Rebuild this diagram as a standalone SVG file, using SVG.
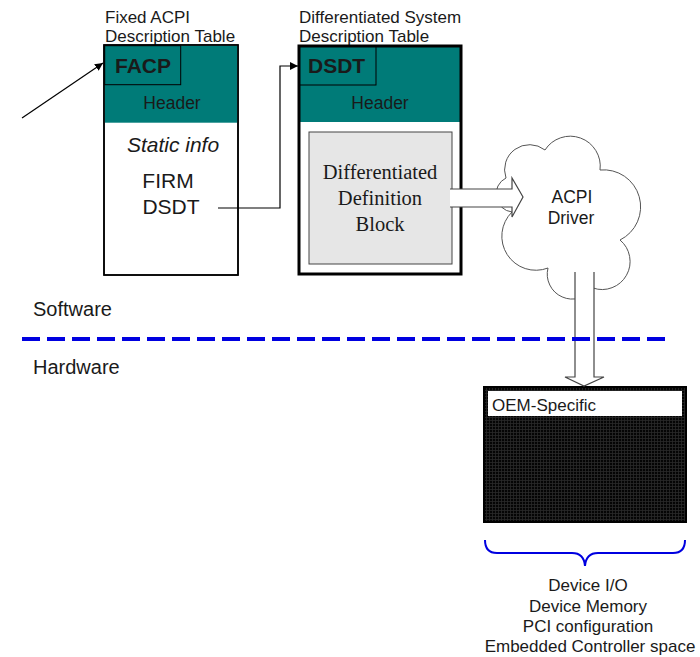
<svg xmlns="http://www.w3.org/2000/svg" width="700" height="657" viewBox="0 0 700 657">
<style>
.t{font-family:"Liberation Sans",Arial,sans-serif;fill:#1a1a1a}
.lab{font-size:17px}
.hd{font-size:17.5px;text-anchor:middle}
.big{font-size:21px;text-anchor:middle}
.lst{font-size:17px;text-anchor:middle}
.ser{font-family:"Liberation Serif","Times New Roman",serif;font-size:20.5px;text-anchor:middle;fill:#1a1a1a}
.teal{fill:#007b78}
.ln{fill:none;stroke:#000;stroke-width:1.2}
.blk{fill:#fff;stroke:#444;stroke-width:1.2}
</style>
<defs>
<marker id="ah" viewBox="0 0 10 10" refX="10" refY="5" markerWidth="8" markerHeight="8" markerUnits="userSpaceOnUse" orient="auto"><path d="M0,0 L10,5 L0,10 z" fill="#000"/></marker>
<pattern id="grid" width="3" height="3" patternUnits="userSpaceOnUse"><rect width="3" height="3" fill="#050505"/><path d="M0,0.5 H3 M0.5,0 V3" stroke="#2a2a2a" stroke-width="0.8"/></pattern>
</defs>
<rect width="700" height="657" fill="#fff"/>

<g id="facp">
<text class="t lab" x="105" y="23">Fixed ACPI</text>
<text class="t lab" x="105" y="42">Description Table</text>
<rect x="104" y="45" width="134" height="230" fill="#fff" stroke="#000" stroke-width="1.5"/>
<rect class="teal" x="104.7" y="45.7" width="132.6" height="77"/>
<rect x="104.7" y="45.7" width="76" height="39" class="teal" stroke="#000" stroke-width="1"/>
<rect x="104" y="45" width="134" height="230" fill="none" stroke="#000" stroke-width="1.5"/>
<text class="t" x="115" y="73" font-size="21" font-weight="bold">FACP</text>
<text class="t hd" x="172" y="109">Header</text>
<text class="t big" x="173" y="152" font-style="italic">Static info</text>
<text class="t big" x="168" y="188">FIRM</text>
<text class="t big" x="171" y="214">DSDT</text>
</g>

<g id="dsdt">
<text class="t lab" x="299" y="23">Differentiated System</text>
<text class="t lab" x="299" y="42">Description Table</text>
<rect x="299" y="46" width="162" height="228" fill="#fff"/>
<rect class="teal" x="299" y="46" width="162" height="76"/>
<rect x="299" y="46" width="77" height="39" class="teal" stroke="#000" stroke-width="1"/>
<rect x="299" y="46" width="162" height="228" fill="none" stroke="#000" stroke-width="3"/>
<text class="t" x="308" y="73" font-size="21" font-weight="bold">DSDT</text>
<text class="t hd" x="380" y="109">Header</text>
<rect x="309" y="132" width="143" height="132" fill="#e6e6e6" stroke="#444" stroke-width="1"/>
<text class="ser" x="380" y="179">Differentiated</text>
<text class="ser" x="380" y="205">Definition</text>
<text class="ser" x="380" y="231">Block</text>
</g>

<g id="driver">
<path d="M506,178 A25,25 0 0 1 545,150 A30,30 0 0 1 600,170 A37,37 0 0 1 620,240 A28,28 0 0 1 593,288 A25,25 0 0 1 548,268 A34,34 0 0 1 512,212 A18,18 0 0 1 506,178 Z" fill="#fff" stroke="#555" stroke-width="1"/>
<text class="t hd" x="572" y="203">ACPI</text>
<text class="t hd" x="571" y="224">Driver</text>
</g>

<g id="oem">
<rect x="484" y="387" width="202" height="135" fill="url(#grid)" stroke="#000" stroke-width="2"/>
<rect x="488" y="391" width="194" height="25" fill="#fff"/>
<text class="t" x="492" y="411" font-size="17">OEM-Specific</text>
<path d="M485,540 Q485,553 497,553 H572 Q584,553 585,566 Q586,553 598,553 H673 Q685,553 685,540" fill="none" stroke="#0000e0" stroke-width="2"/>
<text class="t lst" x="588" y="591">Device I/O</text>
<text class="t lst" x="588" y="612">Device Memory</text>
<text class="t lst" x="588" y="632">PCI configuration</text>
<text class="t lst" x="590" y="652">Embedded Controller space</text>
</g>

<g id="layers">
<text class="t" x="33" y="316" font-size="20">Software</text>
<text class="t" x="33" y="374" font-size="20">Hardware</text>
</g>

<g id="connectors">
<line class="ln" x1="22" y1="118" x2="103" y2="63" marker-end="url(#ah)"/>
<polyline class="ln" points="218,208 280,208 280,66 298,66" marker-end="url(#ah)"/>
<polygon points="450,189 512,189 512,178 523,197 512,217 512,207 450,207" fill="#fff"/>
<polyline points="450,189 512,189 512,178 523,197 512,217 512,207 450,207" fill="none" stroke="#444" stroke-width="1.2"/>
<path class="blk" d="M575,272 V377 H565 L584,386 L604,377 H594 V272"/>
<line x1="22" y1="339" x2="668" y2="339" stroke="#0000e0" stroke-width="4" stroke-dasharray="18,7"/>
</g>
</svg>
